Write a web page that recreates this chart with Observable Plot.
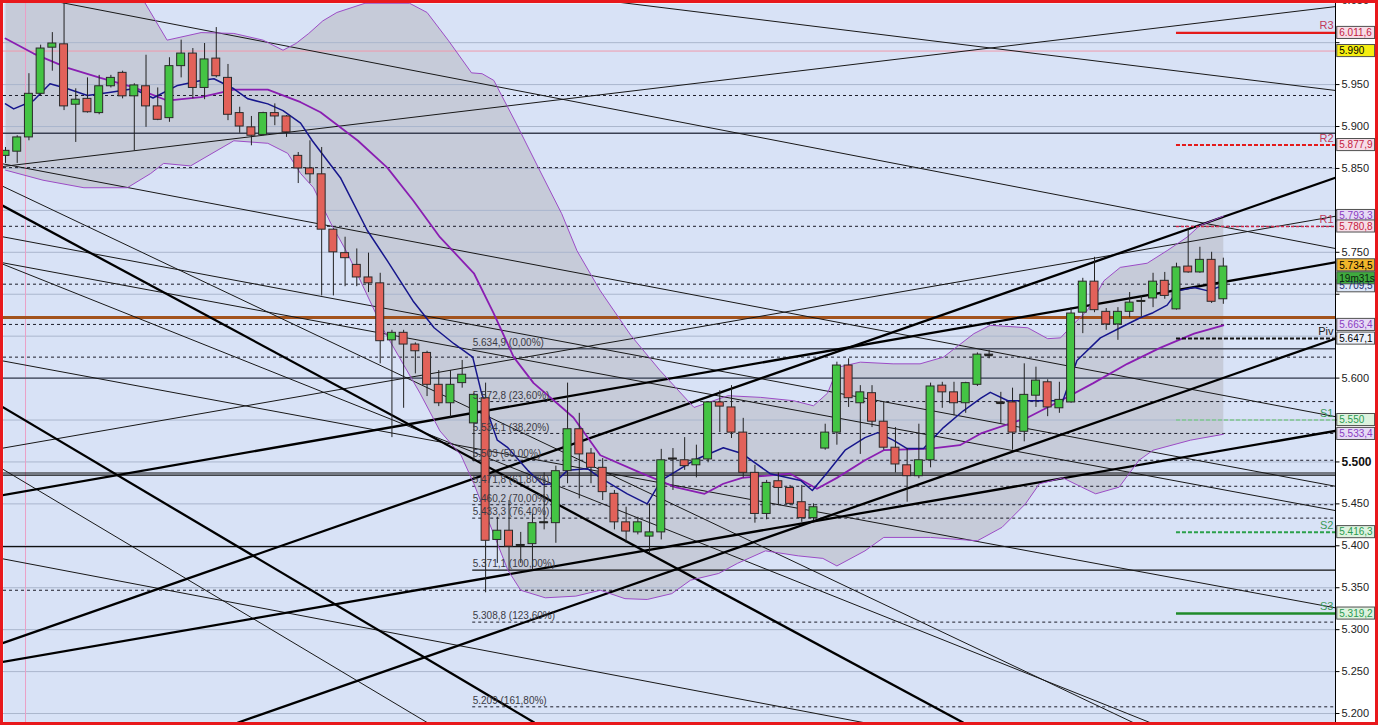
<!DOCTYPE html>
<html><head><meta charset="utf-8">
<script src="https://cdn.jsdelivr.net/npm/d3@7"></script>
<script src="https://cdn.jsdelivr.net/npm/@observablehq/plot@0.6"></script>
<style>
html,body{margin:0;padding:0;background:#fff;}
#wrap{width:1378px;height:725px;box-sizing:border-box;border:3px solid #e8181c;overflow:hidden;}
#wrap svg{display:block;}
</style></head><body><div id="wrap"></div>
<script>
// ---- candles (index 0..104) ----
const opens = [5.865,5.870,5.887,5.939,5.994,5.998,5.926,5.933,5.916,5.948,
5.964,5.936,5.948,5.924,5.910,5.972,5.987,5.946,5.981,5.958,
5.916,5.899,5.890,5.916,5.912,5.865,5.850,5.843,5.777,5.749,
5.735,5.720,5.713,5.645,5.654,5.640,5.630,5.592,5.570,5.594,
5.546,5.576,5.407,5.418,5.400,5.402,5.427,5.427,5.489,5.539,
5.510,5.493,5.462,5.428,5.416,5.411,5.416,5.503,5.502,5.496,
5.503,5.571,5.565,5.535,5.487,5.438,5.477,5.469,5.452,5.433,
5.516,5.535,5.615,5.570,5.582,5.548,5.517,5.496,5.483,5.502,
5.591,5.583,5.570,5.592,5.628,5.571,5.571,5.536,5.579,5.595,
5.564,5.571,5.678,5.715,5.679,5.664,5.679,5.691,5.695,5.716,
5.682,5.733,5.726,5.741,5.694];
const highs = [5.875,5.889,5.963,5.997,6.012,6.047,5.945,5.958,5.961,5.961,
5.966,5.951,5.985,5.946,5.982,6.003,5.993,5.999,6.018,5.974,
5.923,5.912,5.917,5.927,5.913,5.869,5.883,5.875,5.778,5.768,
5.754,5.749,5.725,5.657,5.657,5.642,5.632,5.609,5.609,5.621,
5.582,5.594,5.434,5.454,5.416,5.438,5.487,5.495,5.594,5.558,
5.516,5.504,5.466,5.446,5.434,5.450,5.515,5.516,5.529,5.520,
5.572,5.585,5.591,5.552,5.496,5.478,5.487,5.472,5.472,5.450,
5.545,5.619,5.623,5.591,5.591,5.571,5.541,5.516,5.545,5.594,
5.595,5.595,5.595,5.630,5.633,5.583,5.588,5.617,5.613,5.598,
5.595,5.684,5.719,5.744,5.683,5.684,5.702,5.698,5.725,5.726,
5.737,5.778,5.756,5.750,5.743];
const lows = [5.856,5.856,5.883,5.937,5.966,5.919,5.881,5.916,5.914,5.946,
5.933,5.871,5.899,5.907,5.905,5.958,5.933,5.932,5.958,5.907,
5.892,5.877,5.889,5.901,5.887,5.832,5.832,5.698,5.698,5.709,
5.709,5.702,5.617,5.529,5.564,5.605,5.578,5.566,5.553,5.588,
5.500,5.344,5.379,5.371,5.379,5.371,5.419,5.403,5.474,5.456,
5.474,5.454,5.419,5.403,5.413,5.391,5.407,5.466,5.490,5.481,
5.499,5.535,5.528,5.481,5.427,5.431,5.448,5.448,5.428,5.430,
5.514,5.520,5.565,5.509,5.541,5.514,5.487,5.452,5.480,5.493,
5.564,5.555,5.558,5.590,5.623,5.546,5.514,5.524,5.565,5.554,
5.558,5.570,5.653,5.678,5.657,5.645,5.672,5.673,5.684,5.694,
5.681,5.725,5.725,5.689,5.688];
const closes = [5.871,5.887,5.939,5.993,5.999,5.924,5.932,5.917,5.948,5.958,
5.936,5.949,5.924,5.908,5.972,5.987,5.946,5.980,5.960,5.914,
5.900,5.889,5.916,5.912,5.893,5.850,5.843,5.777,5.750,5.743,
5.720,5.713,5.644,5.654,5.640,5.632,5.592,5.570,5.592,5.604,
5.580,5.406,5.418,5.399,5.401,5.427,5.428,5.489,5.539,5.509,
5.493,5.464,5.428,5.417,5.428,5.416,5.502,5.504,5.495,5.503,
5.571,5.566,5.535,5.487,5.438,5.475,5.469,5.450,5.433,5.446,
5.535,5.615,5.576,5.583,5.548,5.517,5.497,5.483,5.502,5.590,
5.583,5.570,5.594,5.628,5.627,5.570,5.535,5.580,5.597,5.565,
5.574,5.677,5.715,5.681,5.664,5.679,5.690,5.692,5.715,5.698,
5.732,5.726,5.741,5.691,5.733];

// ---- indicators: [candle index, price] ----
const upperBand = [[0,6.098],[9.8,6.086],[11.8,6.050],[13.8,6.003],[16.7,6.012],[19.5,6.011],[22.0,6.003],[23.7,5.991],[24.8,5.999],[25.9,6.011],[27.1,6.026],[28.3,6.036],[30.7,6.047],[34.5,6.047],[36.0,6.036],[37.8,6.003],[39.8,5.964],[40.7,5.963],[41.7,5.955],[43.6,5.904],[45.5,5.851],[47.5,5.796],[48.8,5.752],[50.8,5.704],[53.4,5.651],[55.9,5.609],[58.8,5.565],[61.7,5.579],[64.5,5.577],[67.3,5.573],[69.0,5.567],[70.2,5.582],[71.1,5.613],[73.0,5.619],[75.8,5.617],[78.1,5.617],[80.1,5.625],[82.7,5.653],[84.1,5.663],[87.3,5.660],[89.0,5.647],[90.1,5.648],[90.9,5.660],[92.4,5.681],[93.8,5.716],[95.2,5.732],[97.5,5.737],[99.2,5.752],[100.9,5.768],[102.0,5.782],[104.0,5.793]];
const lowerBand = [[0,5.848],[3.2,5.836],[6.7,5.827],[10.4,5.827],[12.4,5.844],[13.5,5.856],[15.8,5.853],[19.5,5.883],[22.4,5.880],[24.1,5.868],[25.2,5.844],[26.3,5.827],[27.8,5.784],[29.2,5.749],[32.3,5.657],[35.4,5.582],[37.1,5.537],[38.9,5.508],[40.0,5.474],[42.0,5.403],[42.9,5.371],[44.0,5.347],[46.1,5.338],[48.7,5.340],[50.8,5.347],[52.9,5.337],[54.8,5.336],[56.9,5.343],[58.5,5.359],[60.9,5.367],[62.5,5.379],[64.9,5.394],[67.7,5.388],[69.8,5.385],[71.0,5.376],[73.4,5.394],[75.0,5.410],[79.0,5.410],[83.0,5.406],[85.1,5.422],[87.1,5.450],[88.3,5.474],[90.3,5.481],[91.9,5.470],[93.1,5.462],[95.1,5.470],[96.8,5.502],[98.0,5.514],[101.2,5.526],[104.0,5.533]];
const middleMA = [[0,6.005],[2.4,5.987],[5.3,5.970],[8.1,5.958],[10.9,5.947],[13.8,5.931],[16.7,5.935],[19.5,5.944],[22.4,5.944],[25.2,5.929],[26.9,5.917],[30.1,5.883],[32.6,5.851],[34.8,5.812],[37.1,5.768],[40.0,5.725],[41.7,5.677],[43.4,5.625],[45.1,5.594],[47.1,5.570],[48.5,5.553],[50.8,5.508],[54.4,5.486],[57.2,5.470],[59.7,5.462],[61.3,5.474],[62.9,5.481],[67.0,5.486],[69.3,5.468],[71.0,5.481],[73.4,5.502],[75.0,5.514],[79.0,5.516],[81.5,5.520],[83.3,5.534],[87.3,5.553],[90.1,5.573],[92.9,5.594],[95.8,5.617],[98.6,5.636],[101.5,5.653],[104.0,5.663]];
const blueMA = [[0,5.927],[0.7,5.921],[2.4,5.931],[3.8,5.951],[5.3,5.945],[7.0,5.937],[9.0,5.941],[10.9,5.945],[12.6,5.934],[14.7,5.949],[16.7,5.955],[17.8,5.957],[19.5,5.945],[20.7,5.933],[22.4,5.927],[23.7,5.919],[25.2,5.904],[26.2,5.883],[28.6,5.839],[30.9,5.776],[32.6,5.740],[34.8,5.692],[36.6,5.660],[38.3,5.641],[39.9,5.625],[40.6,5.585],[41.2,5.558],[42.0,5.526],[42.9,5.517],[44.6,5.490],[45.9,5.473],[46.8,5.474],[48.0,5.490],[49.7,5.492],[50.8,5.481],[53.1,5.462],[54.8,5.450],[56.0,5.478],[58.8,5.502],[61.3,5.517],[62.9,5.510],[65.3,5.486],[67.9,5.478],[68.9,5.466],[70.1,5.486],[71.7,5.514],[73.4,5.529],[74.5,5.535],[75.8,5.526],[77.0,5.516],[78.4,5.516],[80.1,5.541],[81.8,5.561],[83.3,5.576],[84.1,5.583],[85.6,5.573],[88.4,5.573],[90.3,5.573],[91.5,5.621],[93.5,5.648],[95.2,5.660],[96.9,5.672],[98.0,5.678],[99.2,5.687],[100.1,5.704],[101.5,5.708],[102.7,5.704],[103.5,5.708],[104.0,5.710]];

// ---- drawn trend lines: [index1, price1, index2, price2] ----
const thinLines = [[4.70,6.048,113.58,5.7545],[51.32,6.050,113.58,5.943],[-0.43,5.856,113.58,5.554],[-0.43,5.738,113.58,5.442],[-0.43,5.769,113.58,5.471],[-0.43,5.621,113.58,5.326],[-0.43,5.737,97.78,5.189],[-0.43,5.830,96.33,5.189],[-0.43,5.493,36.04,5.189],[-0.43,5.385,73.36,5.189],[-0.43,5.852,113.58,6.043],[-0.43,5.516,113.58,5.793]];
const thickLines = [[-0.43,5.807,81.81,5.189],[-0.43,5.567,45.18,5.189],[19.81,5.189,113.58,5.647],[-0.43,5.261,113.58,5.537],[-0.43,5.283,113.58,5.839],[-0.43,5.460,113.58,5.738]];

// ---- horizontal levels ----
const gridTicks = ["5.200","5.250","5.300","5.350","5.400","5.450","5.500","5.550","5.600","5.650","5.700","5.750","5.800","5.850","5.900","5.950","6.000","6.050"];
const shownTickLabels = ["5.200","5.250","5.300","5.350","5.400","5.450","5.500","5.600","5.750","5.850","5.900","5.950","6.050"];
const dashedLevels = [5.937,5.851,5.781,5.712,5.664,5.625,5.347];
const darkLevels = [5.892,5.600];
const blackLevels = [5.4868,5.4844,5.3991];
const brownLevels = [5.6722];
const pinkLevels = [5.990];
const markerIndex = [1.71];

const fibLabels = ["5.634,9 (0,00%)","5.572,8 (23,60%)","5.534,1 (38,20%)","5.503 (50,00%)","5.471,8 (61,80%)","5.460,2 (70,00%)","5.433,3 (76,40%)","5.371,1 (100,00%)","5.308,8 (123,60%)","5.209 (161,80%)"];
const fibValues = [5.635,5.572,5.534,5.502,5.471,5.449,5.433,5.371,5.309,5.208];
const fibStart = 39.9;

const pivotNames = ["R3","R2","R1","Piv","S1","S2","S3"];
const pivotValues = [6.0116,5.8779,5.7808,5.6471,5.550,5.4163,5.3192];
const pivotStart = 100.0;

const boxLabels = ["6.011,6","5.990","5.877,9","5.793,3","5.780,8","5.734,5","5.709,5","19m31s","5.663,4","5.647,1","5.550","5.533,4","5.416,3","5.319,2"];
const boxValues = [6.0116,5.990,5.8779,5.7933,5.7808,5.7345,5.7095,5.719,5.6634,5.6471,5.550,5.5334,5.4163,5.3192];
const boxKinds = ["res","last","res","band","res","price","ma","timer","band","piv","sup","band","sup","sup"];

// ---- styles ----
const boxStyle = {
  res:{bg:"#f7dde7",fg:"#c4203e"}, last:{bg:"#f6ee12",fg:"#000"}, band:{bg:"#e6daf5",fg:"#8a3cc2"},
  price:{bg:"#f2b62a",fg:"#000"}, ma:{bg:"#dce6f7",fg:"#1c2c6c"}, timer:{bg:"#3faa3f",fg:"#0a1e0a"},
  piv:{bg:"#eef2fb",fg:"#000"}, sup:{bg:"#ddf2de",fg:"#2a9a50"}
};
const pivotStyle = {
  R3:{c:"#e41a1a",w:2.2,d:null,t:"#c23a5a"}, R2:{c:"#e41a1a",w:2,d:"4,2",t:"#c23a5a"},
  R1:{c:"#d0284a",w:1.5,d:"3,2",t:"#c23a5a"}, Piv:{c:"#101010",w:2,d:"4,2",t:"#202020"},
  S1:{c:"#80c890",w:1.5,d:"4,2",t:"#3a9a5a"}, S2:{c:"#2aa04a",w:2,d:"4,2",t:"#3a9a5a"},
  S3:{c:"#1f8a2a",w:2.5,d:null,t:"#3a9a5a"}
};

const xMin = -0.171, xMax = 113.58;
const candles = opens.map((o,i)=>({i, o, h:highs[i], l:lows[i], c:closes[i]}));
const bandPoly = upperBand.concat(lowerBand.slice().reverse());
const ticks = gridTicks.map(Number);
const labelTicks = shownTickLabels.map(Number);
const fibs = fibLabels.map((t,k)=>({t, p:fibValues[k], k}));
const pivots = pivotNames.map((n,k)=>({n, p:pivotValues[k]}));
const boxes = boxLabels.map((t,k)=>({t, p:boxValues[k], kind:boxKinds[k]}));
const bw = 0.34;

const marks = [
  Plot.frame({fill:"#d8e2f6", stroke:null}),
  Plot.line(bandPoly, {x:d=>d[0], y:d=>d[1], fill:"#c6cbd9", stroke:null, clip:true}),
  Plot.ruleY(ticks, {stroke:"#aab6cd", strokeWidth:1}),
  Plot.ruleY(pinkLevels, {stroke:"#f09aac", strokeWidth:1}),
  Plot.ruleX(markerIndex, {stroke:"#eaa0c6", strokeWidth:1}),
  Plot.ruleY(dashedLevels, {stroke:"#1c1c28", strokeDasharray:"3,3", strokeWidth:1}),
  Plot.ruleY(darkLevels, {stroke:"#3a4052", strokeWidth:1.3}),
  Plot.ruleY(blackLevels, {stroke:"#101010", strokeWidth:1.2}),
  Plot.ruleY(brownLevels, {stroke:"#a2521c", strokeWidth:3}),
  Plot.ruleY(fibs.filter(d=>d.k===0), {y:"p", x1:()=>fibStart, x2:()=>xMax, stroke:"#4a5060", strokeWidth:1.6}),
  Plot.ruleY(fibs.filter(d=>d.k===7), {y:"p", x1:()=>fibStart, x2:()=>xMax, stroke:"#101010", strokeWidth:1.2}),
  Plot.ruleY(fibs.filter(d=>d.k!==0 && d.k!==7), {y:"p", x1:()=>fibStart, x2:()=>xMax, stroke:"#1c1c28", strokeDasharray:"3,3"}),
  Plot.link(thinLines, {x1:d=>d[0], y1:d=>d[1], x2:d=>d[2], y2:d=>d[3], stroke:"#181818", strokeWidth:1, clip:true}),
  Plot.link(thickLines, {x1:d=>d[0], y1:d=>d[1], x2:d=>d[2], y2:d=>d[3], stroke:"#000", strokeWidth:2.3, clip:true}),
  Plot.line(upperBand, {x:d=>d[0], y:d=>d[1], stroke:"#9c4cc6", strokeWidth:1, clip:true}),
  Plot.line(lowerBand, {x:d=>d[0], y:d=>d[1], stroke:"#9c4cc6", strokeWidth:1, clip:true}),
  Plot.line(middleMA, {x:d=>d[0], y:d=>d[1], stroke:"#8a1eb2", strokeWidth:1.8, clip:true}),
  Plot.line(blueMA, {x:d=>d[0], y:d=>d[1], stroke:"#16168c", strokeWidth:1.5, clip:true}),
  Plot.ruleX(candles, {x:"i", y1:"l", y2:"h", stroke:"#222", strokeWidth:1, clip:true}),
  Plot.rect(candles, {x1:d=>d.i-bw, x2:d=>d.i+bw, y1:d=>Math.min(d.o,d.c), y2:d=>Math.max(d.o,d.c),
    fill:d=>d.c>=d.o?"#44c444":"#e2625a", stroke:"#2a2a2a", strokeWidth:1, clip:true}),
  Plot.ruleY(candles.filter(d=>Math.abs(d.c-d.o)<0.003), {y:"c", x1:d=>d.i-bw, x2:d=>d.i+bw, stroke:"#222", strokeWidth:1.6}),
  Plot.text(fibs, {x:()=>fibStart, y:"p", text:"t", textAnchor:"start", dy:-6, fontSize:10, fill:"#3a3a44"}),
];
pivots.forEach(d=>{
  const s = pivotStyle[d.n];
  marks.push(Plot.ruleY([d], {y:"p", x1:()=>pivotStart, x2:()=>xMax, stroke:s.c, strokeWidth:s.w, strokeDasharray:s.d||undefined}));
  marks.push(Plot.text([d], {x:()=>xMax, y:"p", text:"n", textAnchor:"end", dx:-2, dy:-7, fontSize:11, fill:s.t}));
});
marks.push(
  Plot.ruleX([xMax], {stroke:"#000", strokeWidth:1}),
  Plot.link(ticks, {x1:()=>xMax, x2:()=>xMax+0.34, y1:d=>d, y2:d=>d, stroke:"#000"}),
  Plot.text(labelTicks.filter(v=>v!==5.5), {x:()=>xMax, y:d=>d, text:d=>d.toFixed(3), dx:6, textAnchor:"start", fontSize:11, fill:"#222"}),
  Plot.text(labelTicks.filter(v=>v===5.5), {x:()=>xMax, y:d=>d, text:d=>d.toFixed(3), dx:6, textAnchor:"start", fontSize:12, fontWeight:"bold", fill:"#111"}),
  Plot.rect(boxes, {x1:()=>xMax+0.15, x2:()=>xMax+3.38, y1:d=>d.p-0.0072, y2:d=>d.p+0.0072, fill:d=>boxStyle[d.kind].bg, stroke:"#505050", strokeWidth:1}),
  Plot.text(boxes, {x:()=>xMax+0.15, y:"p", text:"t", textAnchor:"start", dx:2, fontSize:10, fill:d=>boxStyle[d.kind].fg})
);

const chart = Plot.plot({
  width:1372, height:719,
  marginLeft:0, marginRight:40, marginTop:0, marginBottom:0,
  x:{domain:[xMin,xMax], axis:null},
  y:{domain:[5.1893,6.0467], axis:null},
  color:{type:"identity"},
  style:{fontFamily:"'Liberation Sans', Arial, sans-serif", background:"#ffffff", overflow:"visible"},
  marks
});
document.getElementById("wrap").appendChild(chart);
</script></body></html>
